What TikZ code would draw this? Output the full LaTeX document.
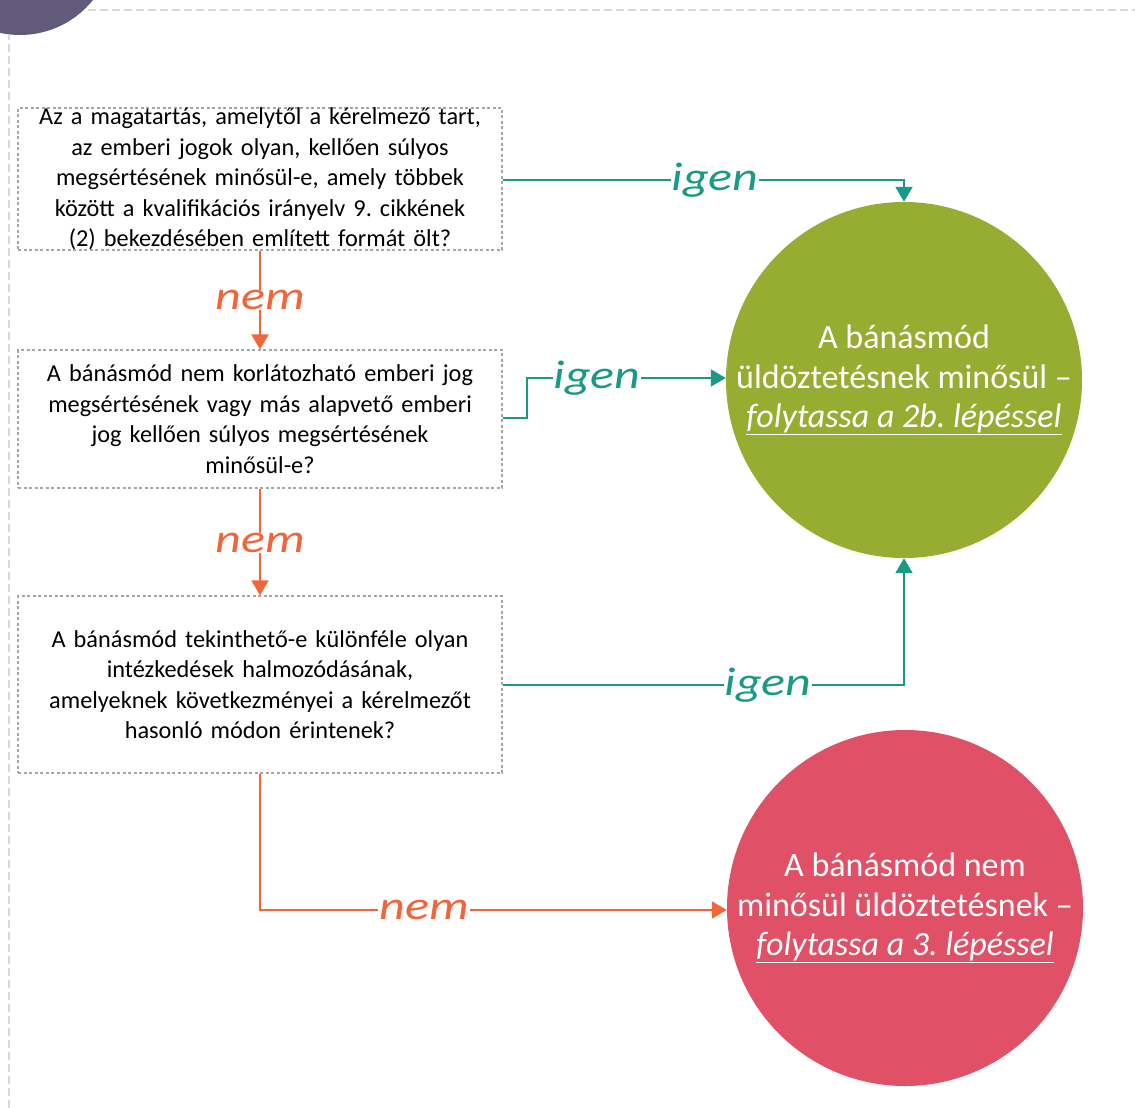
\documentclass[tikz,border=0pt]{standalone}
\usepackage{fontspec}
\usepackage{graphicx}
\setmainfont{Carlito}
\usetikzlibrary{arrows.meta}
\frenchspacing
\definecolor{frame}{HTML}{D9D9D9}
\definecolor{boxline}{HTML}{A6A6A6}
\definecolor{tealc}{HTML}{1A9A85}
\definecolor{orangec}{HTML}{F2643A}
\definecolor{greenc}{HTML}{97AD32}
\definecolor{redc}{HTML}{E05066}
\definecolor{purplec}{HTML}{615A7B}
\newcommand{\handlbl}[1]{\scalebox{1.25}[1]{\itshape #1}}
\tikzset{
  qbox/.style={draw=boxline, line width=1.3pt, dash pattern=on 3pt off 2.5pt,
    minimum width=484pt, text width=476pt, align=center,
    font=\fontsize{24.3}{30.5}\selectfont, inner sep=0pt},
  verdict/.style={circle, minimum size=356pt, inner sep=0pt, text=white,
    align=center, font=\fontsize{34}{39.5}\selectfont},
  yesline/.style={draw=tealc, line width=2pt, -{Triangle[length=15pt,width=17pt]}},
  noline/.style={draw=orangec, line width=2pt, -{Triangle[length=15pt,width=17pt]}},
  yeslbl/.style={fill=white, text=tealc, inner xsep=1pt, inner ysep=0pt,
    font=\fontsize{40}{40}\selectfont},
  nolbl/.style={fill=white, text=orangec, inner xsep=1pt, inner ysep=0pt,
    font=\fontsize{40}{40}\selectfont},
}
\begin{document}
\begin{tikzpicture}[x=1pt, y=-1pt]
\useasboundingbox (0,0) rectangle (1135,1108);

% page frame and corner disc
\draw[frame, line width=2pt, dash pattern=on 8pt off 4pt] (9,1108) -- (9,35);
\draw[frame, line width=2pt, dash pattern=on 8pt off 4pt] (88,10) -- (1135,10);
\fill[purplec] (20,-58.6) circle (93.6pt);

% questions
\node[qbox, minimum height=136pt] (q1) at (260,179) {Az a magatartás, amelytől a kérelmező tart,\\az emberi jogok olyan, kellően súlyos\\megsértésének minősül-e, amely többek\\között a kvalifikációs irányelv 9. cikkének\\(2) bekezdésében említett formát ölt?};
\node[qbox, minimum height=138pt] (q2) at (260,419) {A bánásmód nem korlátozható emberi jog\\megsértésének vagy más alapvető emberi\\jog kellően súlyos megsértésének\\minősül-e?};
\node[qbox, minimum height=177pt] (q3) at (260,684.5) {A bánásmód tekinthető-e különféle olyan\\intézkedések halmozódásának,\\amelyeknek következményei a kérelmezőt\\hasonló módon érintenek?};

% outcomes
\node[verdict, fill=greenc] (g) at (904,380) {A bánásmód\\üldöztetésnek minősül –\\\textit{\underline{folytassa a 2b. lépéssel}}};
\node[verdict, fill=redc] (r) at (905,908) {A bánásmód nem\\minősül üldöztetésnek –\\\textit{\underline{folytassa a 3. lépéssel}}};

% connectors
\coordinate (g1) at (904,180);
\draw[yesline] (q1.east |- g1) -- (g1) -- (g.north);
\node[yeslbl] at (715,180) {\handlbl{igen}};

\coordinate (k1) at (527,418);
\coordinate (k2) at (527,378);
\draw[yesline] (q2.east |- k1) -- (k1) -- (k2) -- (g.west |- k2);
\node[yeslbl] at (597,378) {\handlbl{igen}};

\coordinate (g3) at (904,685);
\draw[yesline] (q3.east |- g3) -- (g3) -- (g.south);
\node[yeslbl] at (768,685) {\handlbl{igen}};

\draw[noline] (q1.south) -- (q2.north);
\node[nolbl] at (260,300) {\handlbl{nem}};
\draw[noline] (q2.south) -- (q3.north);
\node[nolbl] at (260,543) {\handlbl{nem}};

\coordinate (n3) at (260,910);
\draw[noline] (q3.south) -- (n3) -- (r.west |- n3);
\node[nolbl] at (424,910) {\handlbl{nem}};
\end{tikzpicture}
\end{document}
